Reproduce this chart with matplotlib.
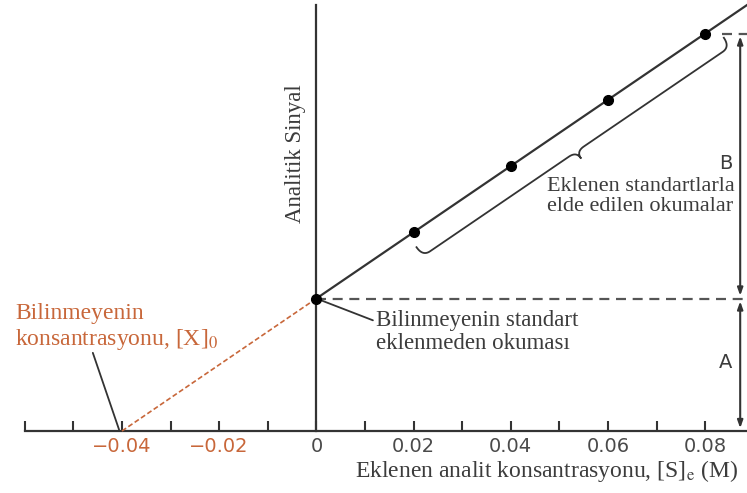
import matplotlib
matplotlib.use("Agg")
import matplotlib.pyplot as plt
import numpy as np

# ─────────────────────────── data ─────────────────────────────────────────────
conc = [0.0, 0.02, 0.04, 0.06, 0.08]          # eklenen standart (M)
signal = [1.0, 1.5, 2.0, 2.5, 3.0]            # analitik sinyal (birim)
minor_ticks = [-0.06, -0.05, -0.04, -0.03, -0.02, -0.01, 0.0,
               0.01, 0.02, 0.03, 0.04, 0.05, 0.06, 0.07, 0.08]
major_ticks = [-0.04, -0.02, 0.0, 0.02, 0.04, 0.06, 0.08]
major_labels = ["\u22120.04", "\u22120.02", "0", "0.02", "0.04", "0.06", "0.08"]

# ─────────────────────────── style ────────────────────────────────────────────
INK = "#333333"
TXT = "#3c3c3c"
ORANGE = "#c8673a"
SERIF = "Liberation Serif"
SANS = "DejaVu Sans"
plt.rcParams["mathtext.fontset"] = "stix"

XLIM = (-0.0651, 0.0886)
YLIM = (-0.468, 3.253)

fig = plt.figure(figsize=(7.47, 4.93), dpi=100)
ax = fig.add_axes([0, 0, 1, 1])
ax.set_xlim(*XLIM)
ax.set_ylim(*YLIM)

# axes drawn through the origin
for side in ("top", "right"):
    ax.spines[side].set_visible(False)
ax.spines["bottom"].set_position(("data", 0))
ax.spines["left"].set_position(("data", 0))
ax.spines["bottom"].set_bounds(minor_ticks[0], XLIM[1])
ax.spines["left"].set_bounds(0, 3.215)
for side in ("bottom", "left"):
    ax.spines[side].set_linewidth(1.6)
    ax.spines[side].set_color(INK)

ax.set_xticks(minor_ticks, minor=True)
ax.set_xticks(major_ticks)
ax.set_xticklabels(major_labels, fontfamily=SANS, fontsize=14)
ax.tick_params(axis="x", which="both", direction="in", length=7.5, width=1.5,
               color=INK, pad=4, labelcolor="#4a4a4a")
for lbl, v in zip(ax.get_xticklabels(), major_ticks):
    if v < 0:
        lbl.set_color(ORANGE)
ax.set_yticks([])

# ─────────────────────────── fit & lines ──────────────────────────────────────
slope, intercept = np.polyfit(conc, signal, 1)
x_int = -intercept / slope

xs = np.array([0.0, XLIM[1]])
ax.plot(xs, slope * xs + intercept, color=INK, lw=1.6, zorder=3)
ax.plot([x_int, 0.0], [0.0, intercept], color=ORANGE, lw=1.2,
        linestyle=(0, (3, 1.6)), zorder=3)
ax.plot(conc, signal, "o", color="black", ms=7, zorder=4)

# dashed reference levels
ax.plot([0.0, XLIM[1]], [signal[0], signal[0]], color="#555555", lw=1.6,
        linestyle=(0, (4.5, 3)), zorder=2)
ax.plot([0.0835, XLIM[1]], [signal[-1], signal[-1]], color="#555555", lw=1.6,
        linestyle=(0, (4.5, 3)), zorder=2)

# A / B double arrows
xa = 0.0872
arrow = dict(arrowstyle="<|-|>,head_length=0.45,head_width=0.16", lw=1.5,
             color=INK, shrinkA=2, shrinkB=2)
ax.annotate("", xy=(xa, 0.0), xytext=(xa, signal[0]), arrowprops=arrow)
ax.annotate("", xy=(xa, signal[0]), xytext=(xa, signal[-1]), arrowprops=arrow)
ax.text(xa - 0.0016, 2.02, "B", ha="right", va="center", fontsize=14,
        fontfamily=SANS, color=TXT)
ax.text(xa - 0.0016, 0.52, "A", ha="right", va="center", fontsize=14,
        fontfamily=SANS, color=TXT)

# ─────────────────────────── curly brace ──────────────────────────────────────
fig.canvas.draw()
to_disp = ax.transData.transform
to_data = ax.transData.inverted().transform
pa = to_disp((conc[1], signal[1]))
pb = to_disp((conc[-1], signal[-1]))
u = (pb - pa) / np.linalg.norm(pb - pa)
n = np.array([u[1], -u[0]])          # perpendicular, below the line


def quad(p0, c, p1, k=20):
    t = np.linspace(0, 1, k)[:, None]
    return (1 - t) ** 2 * p0 + 2 * (1 - t) * t * c + t ** 2 * p1


s0, s1 = -6.0, np.linalg.norm(pb - pa) + 13.0
sm = (s0 + s1) / 2
e, b, tip, h = 14.0, 25.0, 33.0, 9.0
P = lambda s, t: pa + s * u + t * n
segs = [
    quad(P(s0, e), P(s0, b), P(s0 + h, b)),
    np.array([P(s0 + h, b), P(sm - h, b)]),
    quad(P(sm - h, b), P(sm, b), P(sm, tip)),
    quad(P(sm, tip), P(sm, b), P(sm + h, b)),
    np.array([P(sm + h, b), P(s1 - h, b)]),
    quad(P(s1 - h, b), P(s1, b), P(s1, e)),
]
brace = to_data(np.vstack(segs))
ax.plot(brace[:, 0], brace[:, 1], color=INK, lw=1.3, zorder=3)

# ─────────────────────────── annotations ──────────────────────────────────────
ax.text(0.0474, 1.77, "Eklenen standartlarla\nelde edilen okumalar",
        ha="left", va="center", fontsize=16, fontfamily=SERIF, color=TXT,
        linespacing=1.05)

ax.annotate("Bilinmeyenin standart\neklenmeden okuması",
            xy=(0.0, signal[0]), xytext=(0.0122, 0.745),
            ha="left", va="center", fontsize=16.5, fontfamily=SERIF,
            color=TXT, linespacing=1.1,
            arrowprops=dict(arrowstyle="-", color=INK, lw=1.3,
                            shrinkA=0, shrinkB=3,
                            relpos=(0.0, 0.75)))

ax.text(-0.0620, 0.78, "Bilinmeyenin\nkonsantrasyonu, [X]$_0$",
        ha="left", va="center", fontsize=17, fontfamily=SERIF,
        color=ORANGE, linespacing=1.15)
ax.annotate("", xy=(x_int - 0.0006, 0.01), xytext=(-0.0460, 0.59),
            arrowprops=dict(arrowstyle="-", color=INK, lw=1.3,
                            shrinkA=0, shrinkB=0))

ax.text(-0.0044, 2.09, "Analitik Sinyal", rotation=90, ha="center",
        va="center", fontsize=16.5, fontfamily=SERIF, color=TXT)

ax.text(0.0867, -0.30, "Eklenen analit konsantrasyonu, [S]$_\\mathrm{e}$ (M)",
        ha="right", va="center", fontsize=17, fontfamily=SERIF, color=TXT)

fig.savefig("out.png", dpi=100, facecolor="white")
